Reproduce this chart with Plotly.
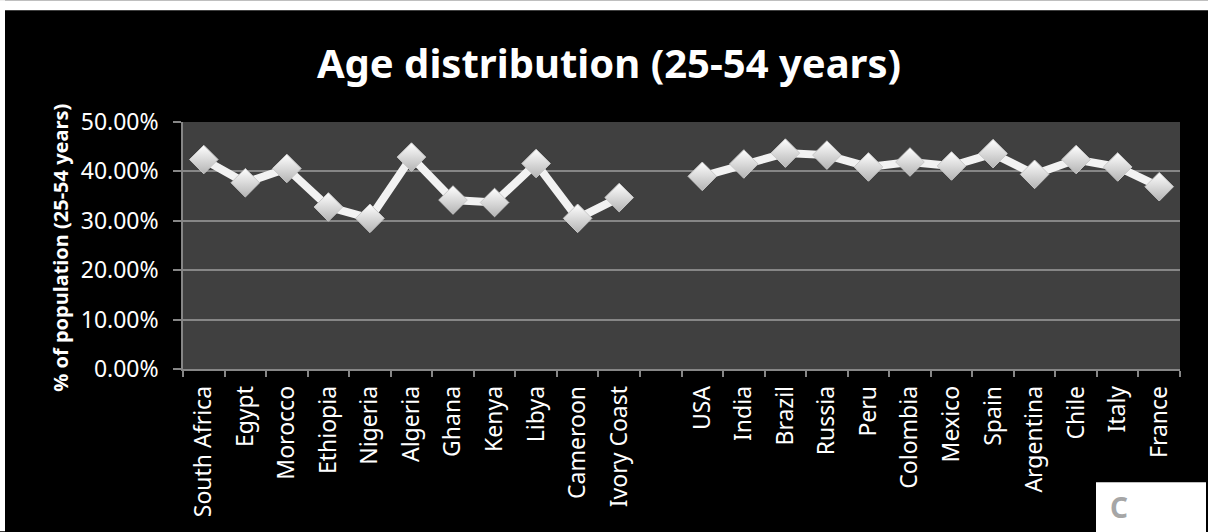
import plotly.graph_objects as go

countries = ["South Africa", "Egypt", "Morocco", "Ethiopia", "Nigeria", "Algeria",
             "Ghana", "Kenya", "Libya", "Cameroon", "Ivory Coast", " ",
             "USA", "India", "Brazil", "Russia", "Peru", "Colombia", "Mexico",
             "Spain", "Argentina", "Chile", "Italy", "France"]
share_25_54 = [0.424, 0.377, 0.406, 0.328, 0.305, 0.429, 0.342, 0.337, 0.416, 0.305, 0.347, None,
               0.390, 0.415, 0.437, 0.433, 0.409, 0.419, 0.411, 0.436, 0.394, 0.424, 0.409, 0.369]
y_ticks = [0, 0.1, 0.2, 0.3, 0.4, 0.5]

W, H = 1208, 532
L, R, T, B = 183, 1180, 122, 369.5

def px(x):
    return (x - L) / (R - L)

def py(y):
    return (B - y) / (B - T)

fig = go.Figure()
fig.add_trace(go.Scatter(
    x=countries, y=share_25_54, mode="lines+markers",
    connectgaps=False,
    line=dict(color="#f2f2f2", width=8),
    marker=dict(symbol="diamond", size=22, color="#ffffff",
                gradient=dict(type="vertical", color="#b4b4b4"),
                line=dict(color="#c8c8c8", width=1)),
    hoverinfo="x+y",
))

font = "Noto Sans"
fig.update_layout(
    width=W, height=H,
    margin=dict(l=L, r=W - R, t=T, b=H - B, pad=0),
    paper_bgcolor="black",
    plot_bgcolor="#404040",
    showlegend=False,
    title=dict(text="<b>Age distribution (25-54 years)</b>",
               x=px(609), xref="paper", xanchor="center",
               y=1 - 64 / H, yref="container", yanchor="middle",
               font=dict(family=font, size=40, color="white")),
    xaxis=dict(type="category", categoryorder="array", categoryarray=countries,
               tickson="boundaries", ticks="outside", ticklen=6, tickcolor="#868686",
               tickwidth=1.5, ticklabelstandoff=6,
               showgrid=False, showline=True, linecolor="#868686", linewidth=1.5,
               tickangle=-90, tickfont=dict(family=font, size=23, color="white"),
               range=[-0.5, len(countries) - 0.5], fixedrange=True),
    yaxis=dict(range=[0, 0.5], tickvals=y_ticks, tickformat=".2%",
               showgrid=True, gridcolor="#868686", gridwidth=1.5,
               showline=True, linecolor="#868686", linewidth=1.5,
               ticks="outside", ticklen=8, tickcolor="#868686", tickwidth=1.5,
               ticklabelstandoff=10,
               tickfont=dict(family=font, size=23, color="white"),
               zeroline=False, fixedrange=True),
    shapes=[
        dict(type="rect", xref="paper", yref="paper", x0=px(0), x1=px(W), y0=py(0), y1=py(10),
             fillcolor="white", line=dict(width=0), layer="above"),
        dict(type="rect", xref="paper", yref="paper", x0=px(0), x1=px(5), y0=py(0), y1=py(H),
             fillcolor="white", line=dict(width=0), layer="above"),
        dict(type="rect", xref="paper", yref="paper", x0=px(1096), x1=px(1206), y0=py(483), y1=py(H + 2),
             fillcolor="white", line=dict(width=0), layer="above"),
    ],
    annotations=[
        dict(text="<b>% of population (25-54 years)</b>", xref="paper", yref="paper",
             x=px(61), y=py(248), xanchor="center", yanchor="middle", textangle=-90,
             showarrow=False, font=dict(family=font, size=20, color="white")),
        dict(text="<b>C</b>", xref="paper", yref="paper",
             x=px(1119), y=py(508), xanchor="center", yanchor="middle",
             showarrow=False, font=dict(family=font, size=28, color="#a6a6a6")),
    ],
)

fig.write_html("out.html")
